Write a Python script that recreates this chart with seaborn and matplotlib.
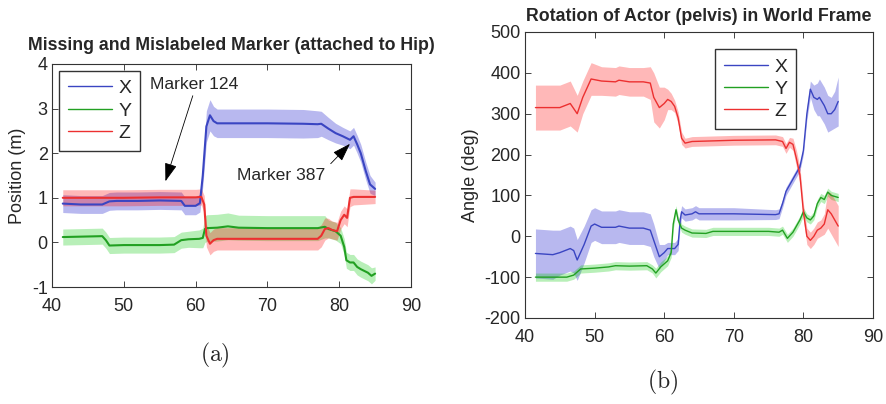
import numpy as np
import pandas as pd
import matplotlib
matplotlib.use("Agg")
import matplotlib.pyplot as plt
import seaborn as sns

# ---------------- data ----------------
# Panel (a): position of hip marker
a_x_t = [41.5, 44, 47, 48, 49, 52, 55, 58, 58.5, 60, 60.6, 61, 61.5, 62, 62.5, 63, 65, 70, 75, 77, 77.5, 78.5, 79.5, 80.5, 81.5, 82, 82.5, 83, 83.7, 84.3, 85]
a_x_v = [0.87, 0.85, 0.85, 0.92, 0.93, 0.93, 0.94, 0.93, 0.82, 0.82, 0.88, 1.5, 2.6, 2.85, 2.72, 2.67, 2.67, 2.67, 2.66, 2.65, 2.66, 2.55, 2.45, 2.38, 2.3, 2.38, 2.2, 2.0, 1.6, 1.3, 1.2]
a_x_e = [0.2, 0.2, 0.2, 0.2, 0.2, 0.2, 0.2, 0.2, 0.2, 0.2, 0.2, 0.25, 0.35, 0.35, 0.33, 0.32, 0.32, 0.32, 0.32, 0.3, 0.28, 0.25, 0.22, 0.2, 0.2, 0.2, 0.2, 0.2, 0.2, 0.2, 0.15]

a_y_t = [41.5, 47, 47.5, 48, 50, 55, 57, 58, 59, 60.5, 61, 61.3, 61.6, 63, 64.5, 66, 70, 77, 78, 78.5, 79.5, 80.2, 80.7, 81, 81.5, 82, 82.5, 83, 84, 84.5, 85]
a_y_v = [0.12, 0.14, 0.05, -0.07, -0.06, -0.06, -0.05, 0.05, 0.07, 0.08, 0.1, 0.3, 0.32, 0.33, 0.36, 0.33, 0.32, 0.32, 0.35, 0.3, 0.25, 0.15, -0.1, -0.4, -0.45, -0.45, -0.55, -0.6, -0.68, -0.75, -0.7]
a_y_e = [0.18, 0.18, 0.18, 0.18, 0.18, 0.18, 0.18, 0.18, 0.18, 0.2, 0.22, 0.3, 0.3, 0.3, 0.3, 0.28, 0.28, 0.28, 0.25, 0.2, 0.2, 0.18, 0.18, 0.18, 0.18, 0.18, 0.18, 0.18, 0.18, 0.18, 0.15]

a_z_t = [41.5, 50, 55, 60, 60.8, 61.2, 61.5, 62, 62.5, 63, 70, 77, 77.5, 78, 78.5, 79, 79.7, 80.2, 80.7, 81.1, 81.5, 82, 85]
a_z_v = [1.0, 1.0, 1.01, 1.01, 1.02, 0.85, 0.15, -0.03, 0.05, 0.08, 0.08, 0.08, 0.15, 0.3, 0.32, 0.28, 0.25, 0.5, 0.62, 0.55, 1.0, 1.02, 1.02]
a_z_e = [0.18, 0.18, 0.18, 0.18, 0.18, 0.2, 0.25, 0.25, 0.25, 0.25, 0.25, 0.25, 0.25, 0.25, 0.22, 0.2, 0.2, 0.2, 0.2, 0.2, 0.2, 0.18, 0.15]

# Panel (b): rotation of pelvis
b_x_t = [41.5, 44, 45, 46.5, 47, 47.5, 48.5, 49.5, 50, 51, 53, 53.5, 55, 57, 58, 58.5, 59.3, 60, 60.5, 61.5, 62, 62.3, 62.5, 63, 64, 64.5, 65, 70, 76, 76.5, 77, 77.5, 78.5, 79.5, 80, 80.5, 81, 81.5, 82, 82.3, 83, 83.5, 84, 84.5, 85]
b_x_v = [-42, -45, -40, -30, -35, -58, -20, 25, 30, 22, 22, 25, 20, 20, 15, -10, -50, -40, -30, -30, -20, 40, 60, 52, 55, 60, 55, 55, 53, 55, 80, 110, 140, 170, 210, 300, 360, 340, 335, 340, 320, 300, 300, 310, 330]
b_x_e = [60, 60, 55, 55, 55, 50, 45, 40, 40, 40, 40, 40, 40, 40, 40, 40, 30, 20, 15, 15, 15, 15, 15, 15, 15, 15, 15, 15, 12, 12, 10, 10, 10, 10, 10, 15, 20, 30, 40, 45, 45, 45, 40, 45, 60]

b_y_t = [41.5, 46, 47, 48, 50, 52, 53, 55, 57.5, 58.3, 58.8, 59.5, 60.5, 61, 61.3, 61.7, 62, 62.5, 63, 64, 66, 67, 70, 75, 76.5, 77, 77.7, 78.5, 79.5, 80, 80.5, 81, 81.5, 82, 82.5, 83, 83.5, 84, 85]
b_y_v = [-100, -100, -95, -80, -78, -75, -72, -73, -72, -80, -90, -75, -60, -40, 30, 65, 40, 20, 15, 8, 7, 12, 12, 12, 10, 15, -5, 10, 40, 60, 45, 40, 50, 80, 95, 90, 108, 100, 95]
b_y_e = [10, 10, 10, 10, 10, 10, 10, 10, 10, 10, 12, 12, 12, 12, 12, 10, 10, 10, 10, 10, 10, 10, 10, 10, 10, 10, 10, 10, 10, 10, 10, 10, 10, 10, 10, 10, 10, 10, 10]

b_z_t = [41.5, 45, 46.5, 47.5, 48.3, 49.5, 51, 53, 53.5, 55, 57, 58, 58.5, 59.3, 60, 60.5, 61, 61.5, 62, 62.5, 63, 64, 66, 70, 76, 77, 77.5, 78, 78.5, 79, 79.5, 80, 80.5, 81, 81.5, 82, 82.5, 83, 83.5, 84, 84.5, 85]
b_z_v = [315, 315, 325, 300, 340, 385, 380, 378, 382, 378, 378, 375, 340, 315, 325, 335, 330, 318, 290, 240, 228, 232, 233, 235, 236, 232, 215, 230, 225, 190, 150, 60, 0, -10, 0, 15, 20, 30, 65, 55, 40, 25]
b_z_e = [55, 55, 55, 45, 40, 40, 35, 35, 35, 35, 35, 40, 60, 50, 40, 25, 20, 15, 15, 15, 12, 12, 12, 12, 12, 12, 12, 12, 15, 20, 20, 20, 20, 20, 20, 20, 20, 25, 45, 50, 50, 50]

series_names = ["X", "Y", "Z"]
line_colors = {"X": "#3a45c2", "Y": "#22a022", "Z": "#ec3030"}
band_colors = {"X": "#0000c8", "Y": "#00c800", "Z": "#ff0000"}

# ---------------- figure ----------------
sns.set_style("ticks")
plt.rcParams["font.family"] = ["Liberation Sans", "DejaVu Sans"]
plt.rcParams["mathtext.fontset"] = "cm"
plt.rcParams["axes.unicode_minus"] = False

fig = plt.figure(figsize=(8.86, 4.04), dpi=100)
ax1 = fig.add_axes([52 / 886, 1 - 287 / 404, (411 - 52) / 886, (287 - 64) / 404])
ax2 = fig.add_axes([525 / 886, 1 - 318 / 404, (873 - 525) / 886, (318 - 32) / 404])


def draw(ax, data, lw):
    frames = []
    for name, (t, v, e) in zip(series_names, data):
        t = np.asarray(t, float); v = np.asarray(v, float); e = np.asarray(e, float)
        frames.append(pd.DataFrame({"t": t, "v": v, "lo": v - e, "hi": v + e, "axis": name}))
    df = pd.concat(frames, ignore_index=True)
    for name in series_names:
        sub = df[df["axis"] == name]
        ax.fill_between(sub["t"], sub["lo"], sub["hi"], color=band_colors[name], alpha=0.28, lw=0)
    sns.lineplot(data=df, x="t", y="v", hue="axis", palette=line_colors, ax=ax,
                 lw=lw, sort=False, estimator=None, legend=False)


draw(ax1, [(a_x_t, a_x_v, a_x_e), (a_y_t, a_y_v, a_y_e), (a_z_t, a_z_v, a_z_e)], 1.5)
draw(ax2, [(b_x_t, b_x_v, b_x_e), (b_y_t, b_y_v, b_y_e), (b_z_t, b_z_v, b_z_e)], 1.0)

from matplotlib.lines import Line2D
handles = [Line2D([0], [0], color=line_colors[n], lw=1.0) for n in series_names]

FS = 13
for ax in (ax1, ax2):
    ax.set_xlim(40, 90)
    ax.set_xticks([40, 50, 60, 70, 80, 90])
    ax.tick_params(direction="in", top=True, right=True, length=4, width=0.6,
                   labelsize=FS)
    ax.tick_params(axis="x", pad=8)
    ax.tick_params(axis="y", pad=3)
    for s in ax.spines.values():
        s.set_visible(True)
        s.set_linewidth(0.8)
        s.set_color("#333333")
    ax.set_xlabel("")

leg_kw = dict(loc="upper left", fontsize=14, handlelength=2.3, fancybox=False,
              edgecolor="#333333", framealpha=1, borderpad=0.45, labelspacing=0.24,
              handletextpad=0.3, borderaxespad=0)

ax1.set_ylim(-1, 4)
ax1.set_yticks([-1, 0, 1, 2, 3, 4])
ax1.set_ylabel("Position (m)", fontsize=FS, labelpad=4)
ax1.set_title("Missing and Mislabeled Marker (attached to Hip)", fontsize=12.8,
              fontweight="bold", pad=10)
ax1.legend(handles, series_names, bbox_to_anchor=(0.019, 0.969), **leg_kw)

ax1.annotate("Marker 124", xy=(55.8, 1.37), xytext=(53.6, 3.53), fontsize=12.6,
             va="center", ha="left",
             arrowprops=dict(arrowstyle="-|>,head_width=0.3,head_length=0.9",
                             color="black", lw=0.6, shrinkA=0, shrinkB=0,
                             relpos=(0.5, 0.0)))
ax1.annotate("Marker 387", xy=(81.5, 2.21), xytext=(65.8, 1.51), fontsize=12.6,
             va="center", ha="left",
             arrowprops=dict(arrowstyle="-|>,head_width=0.3,head_length=0.9",
                             color="black", lw=0.6, shrinkA=2, shrinkB=0,
                             relpos=(1.0, 0.9)))

ax2.set_ylim(-200, 500)
ax2.set_yticks([-200, -100, 0, 100, 200, 300, 400, 500])
ax2.set_ylabel("Angle (deg)", fontsize=FS, labelpad=4)
ax2.set_title("Rotation of Actor (pelvis) in World Frame", fontsize=12.8,
              fontweight="bold", pad=8)
ax2.legend(handles, series_names, bbox_to_anchor=(0.546, 0.94), **leg_kw)

fig.text(215 / 886, 1 - 355 / 404, r"$\mathrm{(a)}$", fontsize=17, ha="center", va="center")
fig.text(663 / 886, 1 - 382 / 404, r"$\mathrm{(b)}$", fontsize=17, ha="center", va="center")

fig.savefig("out.png", dpi=100)
